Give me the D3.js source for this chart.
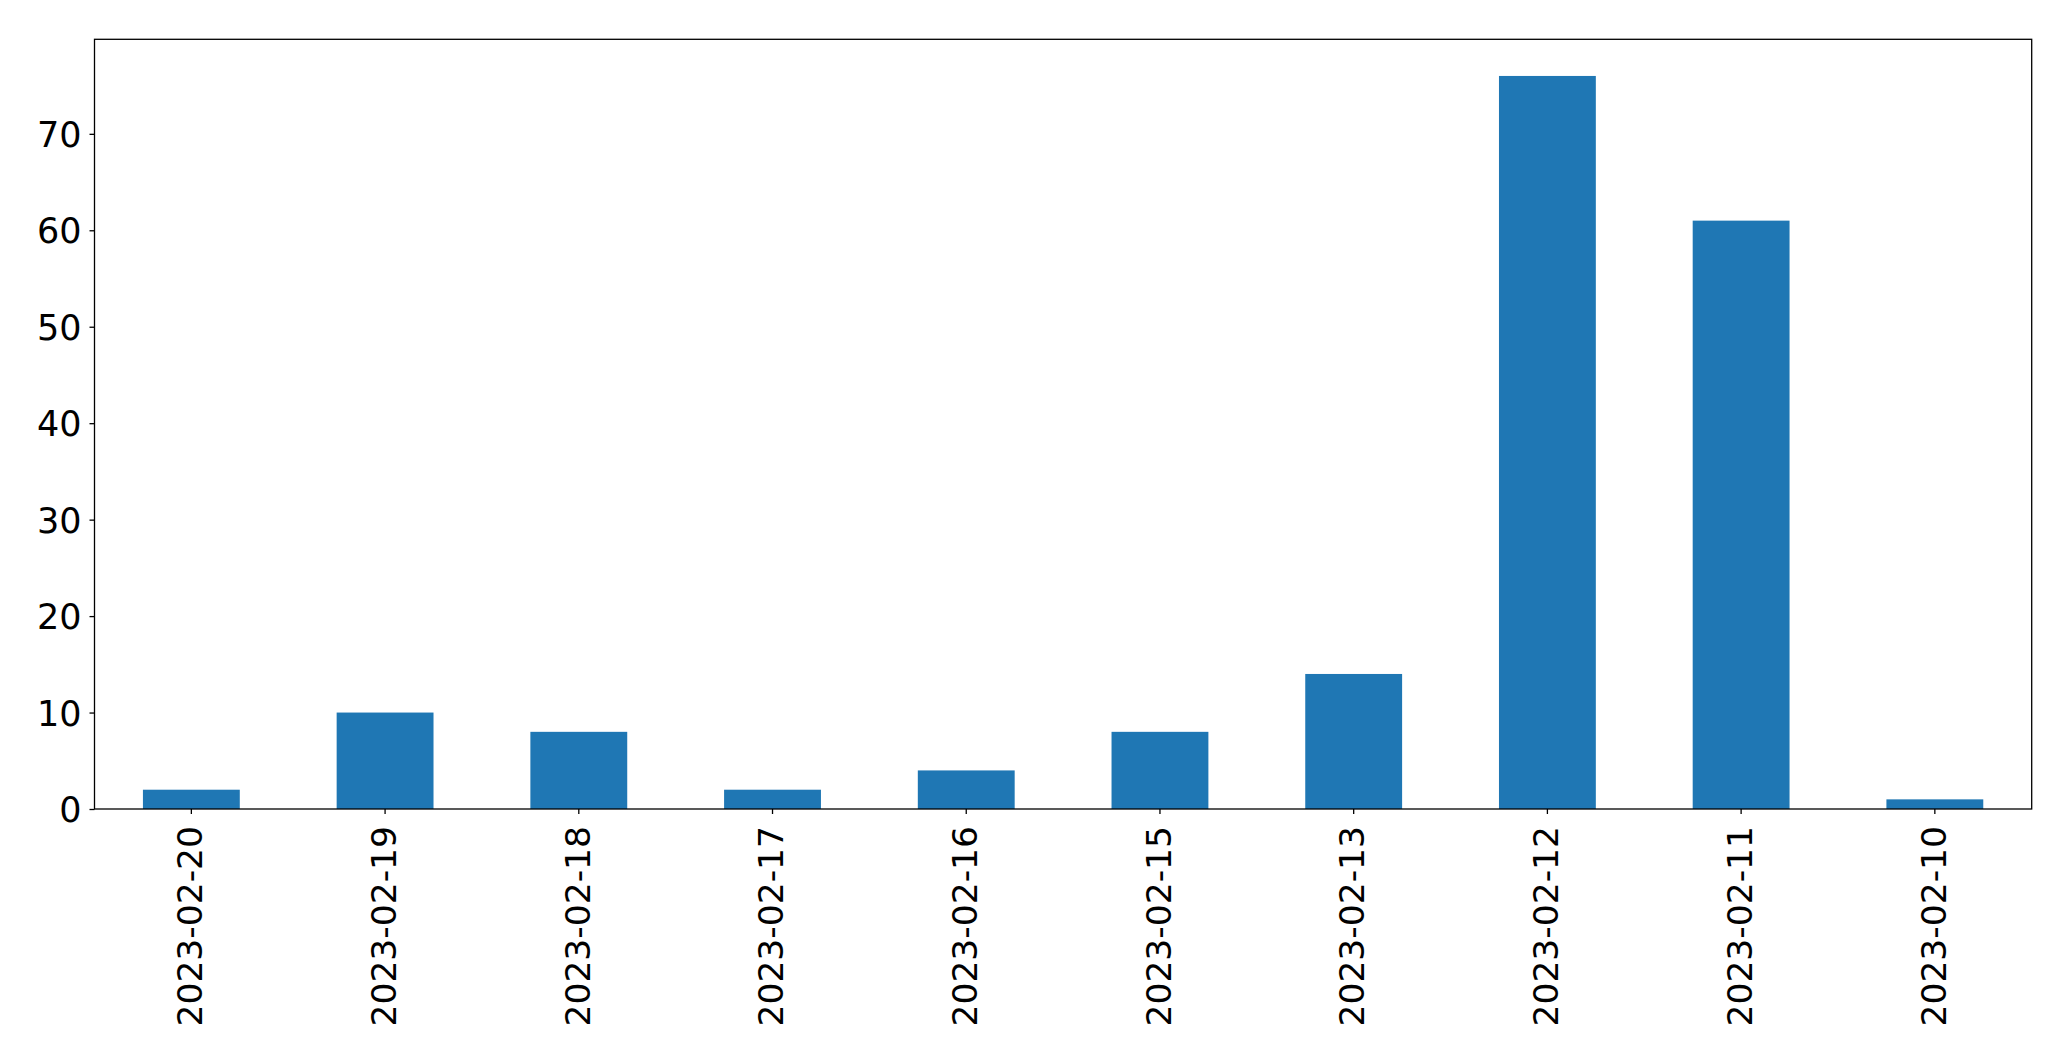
<!DOCTYPE html>
<html>
<head>
<meta charset="utf-8">
<script src="https://cdn.jsdelivr.net/npm/d3@7"></script>
<style>
  html, body { margin: 0; padding: 0; background: #fff; }
  svg { display: block; }
  text { font-family: "DejaVu Sans", sans-serif; }
</style>
</head>
<body>
<svg id="chart" width="2071" height="1061"></svg>
<script>
const categories = ["2023-02-20","2023-02-19","2023-02-18","2023-02-17","2023-02-16","2023-02-15","2023-02-13","2023-02-12","2023-02-11","2023-02-10"];
const values = [2, 10, 8, 2, 4, 8, 14, 76, 61, 1];
const yTicks = [0, 10, 20, 30, 40, 50, 60, 70];

const W = 2071, H = 1061;
const margin = { left: 94.5, right: W - 2031.7, top: 39.3, bottom: H - 809 };
const svg = d3.select("#chart");
const g = svg.append("g").attr("transform", `translate(${margin.left},${margin.top})`);
const iw = W - margin.left - margin.right;
const ih = H - margin.top - margin.bottom;

const x = d3.scaleBand().domain(categories).range([0, iw]).paddingInner(0.5).paddingOuter(0.25);
const y = d3.scaleLinear().domain([0, d3.max(values) * 1.05]).range([ih, 0]);

g.selectAll("rect.bar").data(values).join("rect")
  .attr("class", "bar")
  .attr("x", (d, i) => x(categories[i]))
  .attr("width", x.bandwidth())
  .attr("y", d => y(d))
  .attr("height", d => y(0) - y(d))
  .attr("fill", "#1f77b4");

const fs = 35;
const yAxis = g.append("g")
  .call(d3.axisLeft(y).tickValues(yTicks).tickSize(5).tickPadding(8).tickFormat(d3.format("d")));
yAxis.select(".domain").remove();
yAxis.selectAll("line").attr("stroke", "#000").attr("stroke-width", 1.3);
yAxis.selectAll("text").style("font-size", fs + "px").attr("fill", "#000").attr("dy", "0.36em");

const xAxis = g.append("g").attr("transform", `translate(0,${ih})`)
  .call(d3.axisBottom(x).tickSize(5).tickPadding(0));
xAxis.select(".domain").remove();
xAxis.selectAll("line").attr("stroke", "#000").attr("stroke-width", 1.3);
xAxis.selectAll("text")
  .style("font-size", "34.5px")
  .attr("fill", "#000")
  .attr("transform", "rotate(-90)")
  .attr("x", -17)
  .attr("y", 0)
  .attr("dy", "0.31em")
  .style("text-anchor", "end");

g.append("rect")
  .attr("x", 0).attr("y", 0).attr("width", iw).attr("height", ih)
  .attr("fill", "none").attr("stroke", "#000").attr("stroke-width", 1.3);
</script>
</body>
</html>
